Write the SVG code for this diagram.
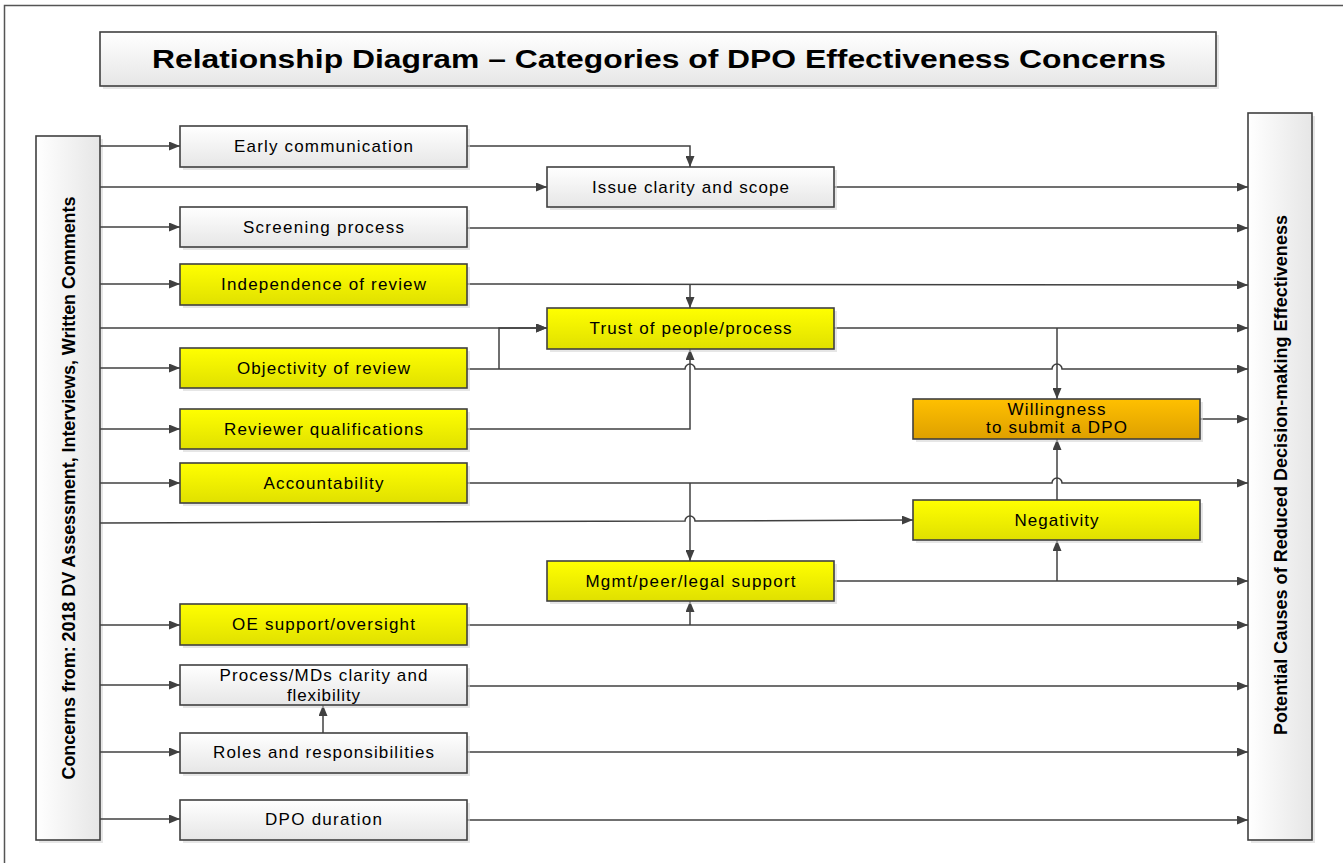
<svg xmlns="http://www.w3.org/2000/svg" width="1343" height="863" viewBox="0 0 1343 863">
<defs>
<linearGradient id="gGray" x1="0" y1="0" x2="0" y2="1"><stop offset="0" stop-color="#ffffff"/><stop offset="1" stop-color="#e6e6e6"/></linearGradient>
<linearGradient id="gYel" x1="0" y1="0" x2="0" y2="1"><stop offset="0" stop-color="#ffff00"/><stop offset="1" stop-color="#e0e000"/></linearGradient>
<linearGradient id="gOra" x1="0" y1="0" x2="0" y2="1"><stop offset="0" stop-color="#ffc000"/><stop offset="1" stop-color="#dea000"/></linearGradient>
<linearGradient id="gSide" x1="0" y1="0" x2="1" y2="0"><stop offset="0" stop-color="#ffffff"/><stop offset="1" stop-color="#e6e6e6"/></linearGradient>
<marker id="arr" markerUnits="userSpaceOnUse" markerWidth="11" markerHeight="9" refX="11" refY="4.5" orient="auto"><path d="M0,0 L11,4.5 L0,9 z" fill="#404040"/></marker>
</defs>
<style>
.box{stroke:#404040;stroke-width:1.6}
.gray{fill:url(#gGray)}
.yel{fill:url(#gYel)}
.ora{fill:url(#gOra)}
.side{fill:url(#gSide)}
.sh{fill:#d6d6d6;opacity:0.6}
.t{font-family:"Liberation Sans",Arial,sans-serif;font-size:17px;fill:#000;text-anchor:middle}
.tb{font-family:"Liberation Sans",Arial,sans-serif;font-weight:bold;fill:#000;text-anchor:middle}
.c{fill:none;stroke:#404040;stroke-width:1.5}
.ca{fill:none;stroke:#404040;stroke-width:1.5;marker-end:url(#arr)}
</style>
<rect x="0" y="0" width="1343" height="863" fill="#ffffff"/>
<rect x="4.5" y="5.5" width="1350" height="870" fill="none" stroke="#555" stroke-width="1.5"/>

<g id="title">
<rect class="sh" x="103" y="35" width="1116" height="54"/>
<rect class="box gray" x="100" y="32" width="1116" height="54"/>
<text class="tb" x="659" y="68" font-size="26" textLength="1014" lengthAdjust="spacingAndGlyphs">Relationship Diagram – Categories of DPO Effectiveness Concerns</text>
</g>

<g id="left-source">
<rect class="sh" x="39" y="139" width="64" height="704"/>
<rect class="box side" x="36" y="136" width="64" height="704"/>
<text class="tb" font-size="18" transform="translate(75,488) rotate(-90)" textLength="583" lengthAdjust="spacing">Concerns from: 2018 DV Assessment, Interviews, Written Comments</text>
</g>

<g id="right-target">
<rect class="sh" x="1251" y="116" width="64" height="727"/>
<rect class="box side" x="1248" y="113" width="64" height="727"/>
<text class="tb" font-size="18" transform="translate(1287,475) rotate(-90)" textLength="520" lengthAdjust="spacing">Potential Causes of Reduced Decision-making Effectiveness</text>
</g>

<g id="connectors">
<path class="ca" d="M100,146 H180"/>
<path class="ca" d="M100,187 H547"/>
<path class="ca" d="M100,227 H180"/>
<path class="ca" d="M100,284 H180"/>
<path class="ca" d="M100,328 H547"/>
<path class="ca" d="M100,368 H180"/>
<path class="ca" d="M100,429 H180"/>
<path class="ca" d="M100,483 H180"/>
<path class="ca" d="M100,523 L685,521 a5,5 0 0 1 10,0 L913,520"/>
<path class="ca" d="M100,625 H180"/>
<path class="ca" d="M100,685 H180"/>
<path class="ca" d="M100,752 H180"/>
<path class="ca" d="M100,819 H180"/>
<path class="ca" d="M467,146 H690 V167"/>
<path class="ca" d="M834,187 H1248"/>
<path class="ca" d="M467,228 H1248"/>
<path class="ca" d="M467,284 L1248,285"/>
<path class="ca" d="M690,284.5 V308"/>
<path class="ca" d="M834,328 H1248"/>
<path class="ca" d="M1057,328 V399"/>
<path class="ca" d="M467,369 H685 a5,5 0 0 1 10,0 H1052 a5,5 0 0 1 10,0 H1248"/>
<path class="ca" d="M499,369 V328 H547"/>
<path class="ca" d="M467,429 H690 V349"/>
<path class="ca" d="M1200,419 H1248"/>
<path class="ca" d="M467,483 H1052 a5,5 0 0 1 10,0 H1248"/>
<path class="ca" d="M690,483 V561"/>
<path class="ca" d="M1057,500 V439"/>
<path class="ca" d="M834,581 H1248"/>
<path class="ca" d="M1057,581 V540"/>
<path class="ca" d="M467,625 H1248"/>
<path class="ca" d="M690,625 V601"/>
<path class="ca" d="M467,686 H1248"/>
<path class="ca" d="M467,752 H1248"/>
<path class="ca" d="M323,733 V705"/>
<path class="ca" d="M467,820 H1248"/>
</g>

<g id="n-early"><rect class="sh" x="183" y="129" width="287" height="41"/><rect class="box gray" x="180" y="126" width="287" height="41"/><text class="t" x="323.5" y="152" textLength="179" lengthAdjust="spacing">Early communication</text></g>
<g id="n-screening"><rect class="sh" x="183" y="210" width="287" height="40"/><rect class="box gray" x="180" y="207" width="287" height="40"/><text class="t" x="323.5" y="233" textLength="161" lengthAdjust="spacing">Screening process</text></g>
<g id="n-independence"><rect class="sh" x="183" y="267" width="287" height="41"/><rect class="box yel" x="180" y="264" width="287" height="41"/><text class="t" x="323.5" y="290" textLength="205" lengthAdjust="spacing">Independence of review</text></g>
<g id="n-objectivity"><rect class="sh" x="183" y="351" width="287" height="40"/><rect class="box yel" x="180" y="348" width="287" height="40"/><text class="t" x="323.5" y="374" textLength="173" lengthAdjust="spacing">Objectivity of review</text></g>
<g id="n-reviewer"><rect class="sh" x="183" y="412" width="287" height="40"/><rect class="box yel" x="180" y="409" width="287" height="40"/><text class="t" x="323.5" y="435" textLength="199" lengthAdjust="spacing">Reviewer qualifications</text></g>
<g id="n-accountability"><rect class="sh" x="183" y="466" width="287" height="40"/><rect class="box yel" x="180" y="463" width="287" height="40"/><text class="t" x="323.5" y="489" textLength="120" lengthAdjust="spacing">Accountability</text></g>
<g id="n-oe"><rect class="sh" x="183" y="607" width="287" height="41"/><rect class="box yel" x="180" y="604" width="287" height="41"/><text class="t" x="323.5" y="630" textLength="183" lengthAdjust="spacing">OE support/oversight</text></g>
<g id="n-process"><rect class="sh" x="183" y="668" width="287" height="40"/><rect class="box gray" x="180" y="665" width="287" height="40"/><text class="t" x="323.5" y="681" textLength="208" lengthAdjust="spacing">Process/MDs clarity and</text><text class="t" x="323.5" y="701" textLength="73" lengthAdjust="spacing">flexibility</text></g>
<g id="n-roles"><rect class="sh" x="183" y="736" width="287" height="40"/><rect class="box gray" x="180" y="733" width="287" height="40"/><text class="t" x="323.5" y="758" textLength="221" lengthAdjust="spacing">Roles and responsibilities</text></g>
<g id="n-duration"><rect class="sh" x="183" y="803" width="287" height="40"/><rect class="box gray" x="180" y="800" width="287" height="40"/><text class="t" x="323.5" y="825" textLength="117" lengthAdjust="spacing">DPO duration</text></g>

<g id="n-issue"><rect class="sh" x="550" y="170" width="287" height="40"/><rect class="box gray" x="547" y="167" width="287" height="40"/><text class="t" x="690.5" y="193" textLength="197" lengthAdjust="spacing">Issue clarity and scope</text></g>
<g id="n-trust"><rect class="sh" x="550" y="311" width="287" height="41"/><rect class="box yel" x="547" y="308" width="287" height="41"/><text class="t" x="690.5" y="334" textLength="202" lengthAdjust="spacing">Trust of people/process</text></g>
<g id="n-mgmt"><rect class="sh" x="550" y="564" width="287" height="40"/><rect class="box yel" x="547" y="561" width="287" height="40"/><text class="t" x="690.5" y="587" textLength="210" lengthAdjust="spacing">Mgmt/peer/legal support</text></g>

<g id="n-willingness"><rect class="sh" x="916" y="402" width="287" height="40"/><rect class="box ora" x="913" y="399" width="287" height="40"/><text class="t" x="1056.5" y="415" textLength="98" lengthAdjust="spacing">Willingness</text><text class="t" x="1056.5" y="433" textLength="141" lengthAdjust="spacing">to submit a DPO</text></g>
<g id="n-negativity"><rect class="sh" x="916" y="503" width="287" height="40"/><rect class="box yel" x="913" y="500" width="287" height="40"/><text class="t" x="1056.5" y="526" textLength="84" lengthAdjust="spacing">Negativity</text></g>
</svg>
